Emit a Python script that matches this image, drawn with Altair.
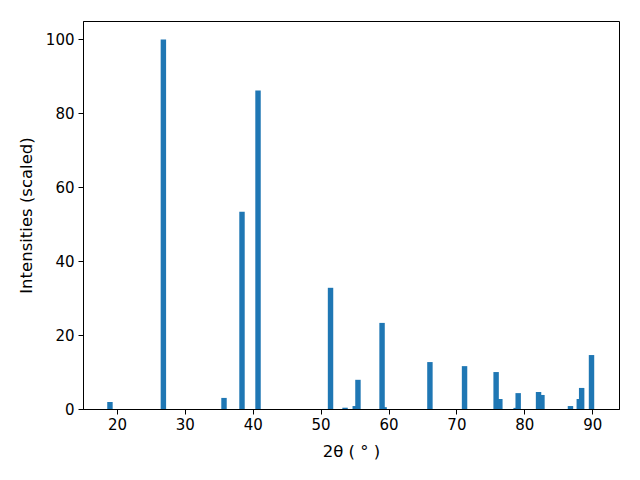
import altair as alt
import pandas as pd

two_theta = [18.97, 26.84, 35.77, 38.42, 40.78, 51.46, 53.6, 55.1, 55.5, 59.05, 59.35,
             66.1, 71.2, 75.85, 76.4, 78.8, 79.1, 82.1, 82.6, 86.8, 88.1, 88.45, 89.9]
intensity = [1.9, 100.0, 3.0, 53.4, 86.2, 32.8, 0.35, 0.8, 7.9, 23.3, 0.5,
             12.7, 11.6, 10.0, 2.7, 0.3, 4.3, 4.6, 3.8, 0.8, 2.7, 5.7, 14.6]

df = pd.DataFrame({"x": two_theta, "y": intensity})

font = "DejaVu Sans"

chart = alt.Chart(df).transform_calculate(
    x0="datum.x - 0.4", x1="datum.x + 0.4", base="0"
).mark_bar(color="#1f77b4", clip=True).encode(
    x=alt.X("x0:Q", scale=alt.Scale(domain=[15.0, 93.95], nice=False, zero=False, padding=0),
            axis=alt.Axis(title="2θ ( ° )", values=[20, 30, 40, 50, 60, 70, 80, 90],
                          grid=False, labelFlush=False, labelPadding=3,
                          titlePadding=11)),
    x2="x1:Q",
    y=alt.Y("y:Q", scale=alt.Scale(domain=[0, 105], nice=False, padding=0),
            axis=alt.Axis(title="Intensities (scaled)", values=[0, 20, 40, 60, 80, 100],
                          grid=False, labelFlush=False, labelPadding=4,
                          titlePadding=11)),
    y2="base:Q",
).properties(
    width=536, height=388,
    autosize=alt.AutoSizeParams(type="none"),
    padding={"left": 75, "top": 13, "right": 13, "bottom": 63},
).configure_view(
    stroke="black", strokeWidth=1
).configure_axis(
    labelFont=font, titleFont=font, labelFontSize=15, titleFontSize=16.5,
    titleFontWeight="normal", labelColor="black", titleColor="black",
    domainColor="black", tickColor="black", tickSize=5, domainWidth=1, tickWidth=1,
)

chart.save("out.html", embed_options={"renderer": "svg", "actions": False})
